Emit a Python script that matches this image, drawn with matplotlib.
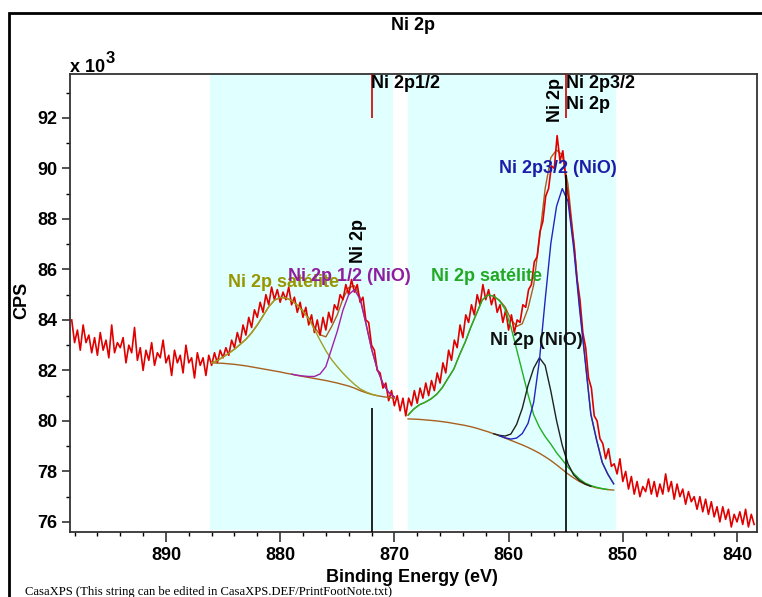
import numpy as np
import matplotlib
matplotlib.use("Agg")
import matplotlib.pyplot as plt
from matplotlib.patches import Rectangle
from matplotlib.ticker import MultipleLocator

plt.rcParams['font.family'] = ['Liberation Sans', 'DejaVu Sans']
plt.rcParams['font.weight'] = 'bold'

# ---- measured spectrum (CPS / 1000), 0.25 eV steps starting at 898.25 eV ----
be_start, be_step = 898.25, 0.25
cps_k = [
    84.0, 83.1, 83.6, 82.8, 83.8, 83.1, 83.4, 82.7,
    83.3, 82.6, 83.5, 82.8, 83.2, 82.5, 83.8, 82.7,
    83.1, 82.9, 83.3, 82.3, 83.0, 82.7, 83.7, 82.4,
    82.9, 82.0, 82.8, 82.4, 83.1, 82.2, 82.7, 82.5,
    83.2, 82.3, 82.6, 81.8, 82.8, 82.3, 82.6, 81.9,
    83.0, 82.3, 82.5, 81.7, 82.7, 82.2, 82.5, 81.8,
    82.6, 82.2, 82.7, 82.3, 82.8, 82.5, 82.9, 82.6,
    83.2, 82.9, 83.5, 83.1, 83.8, 83.4, 84.1, 83.7,
    84.4, 84.1, 84.7, 84.3, 85.0, 84.6, 85.3, 84.8,
    85.2, 84.7, 85.1, 84.8, 85.3, 84.6, 84.9, 84.3,
    84.7, 84.1, 84.5, 83.8, 84.2, 83.5, 84.0, 83.4,
    84.1, 83.6, 84.3, 83.9, 84.6, 84.4, 85.0, 84.8,
    85.4, 85.0, 85.6, 85.1, 85.4, 84.7, 84.9, 84.0,
    83.9, 83.0, 82.8, 82.0, 81.9, 81.3, 81.5, 80.8,
    81.2, 80.6, 81.0, 80.4, 80.9, 80.2, 80.9, 80.6,
    81.2, 80.7, 81.3, 80.9, 81.5, 81.0, 81.6, 81.2,
    81.9, 81.5, 82.3, 81.9, 82.8, 82.4, 83.2, 82.9,
    83.8, 83.3, 84.2, 83.9, 84.6, 84.2, 85.0, 84.6,
    85.4, 84.8, 85.2, 84.6, 85.0, 84.3, 84.6, 83.9,
    84.4, 83.6, 84.2, 83.5, 84.0, 83.9, 84.6, 84.5,
    85.2, 85.4, 86.3, 86.5, 87.5, 87.9, 88.9, 89.2,
    90.1, 90.0, 91.3, 90.3, 90.7, 89.6, 88.8, 87.8,
    86.9, 85.6, 84.8, 83.5, 82.9, 81.7, 81.3, 80.2,
    80.0, 79.3, 79.1, 78.5, 78.9, 78.2, 78.3, 77.9,
    78.5, 77.6, 78.0, 77.3, 77.8, 77.1, 77.6, 77.0,
    77.4, 77.2, 77.7, 77.1, 77.6, 77.0, 77.5, 77.1,
    77.9, 77.2, 77.6, 76.9, 77.5, 77.0, 77.3, 76.7,
    77.2, 76.8, 77.0, 76.5, 77.0, 76.4, 76.9, 76.3,
    76.8, 76.2, 76.6, 76.0, 76.6, 76.1, 76.5, 75.8,
    76.3, 76.0, 76.4, 75.9, 76.5, 75.8, 76.3, 75.9,
]

# ---- region 1 (Ni 2p1/2 + satellite), 886.0 -> 870.0 eV, 0.5 eV steps ----
r1_limits = (886.1, 870.1)
r1_first, r1_last = 886.0, 870.0
r1_bg = [82.30, 82.29, 82.28, 82.26, 82.24, 82.21, 82.18, 82.14, 82.10, 82.06,
         82.02, 81.98, 81.94, 81.89, 81.85, 81.80, 81.76, 81.72, 81.68, 81.64,
         81.60, 81.55, 81.50, 81.44, 81.38, 81.30, 81.20, 81.12, 81.05, 81.00,
         80.96, 80.93, 80.90]
r1_sat = [0.00, 0.10, 0.25, 0.42, 0.60, 0.82, 1.05, 1.35, 1.70, 2.10,
          2.50, 2.80, 2.95, 2.98, 2.92, 2.78, 2.58, 2.32, 1.95, 1.55,
          1.18, 0.88, 0.65, 0.45, 0.28, 0.15, 0.07, 0.03, 0.01, 0.00,
          0.00, 0.00, 0.00]
r1_p12 = [0.00, 0.00, 0.00, 0.00, 0.00, 0.00, 0.00, 0.00, 0.00, 0.00,
          0.00, 0.00, 0.00, 0.00, 0.00, 0.01, 0.02, 0.04, 0.08, 0.22,
          0.55, 1.30, 2.05, 2.95, 3.62, 3.90, 3.62, 2.75, 1.80, 1.05,
          0.52, 0.20, 0.05]

# ---- region 2 (Ni 2p3/2 + satellite), 868.8 -> 850.8 eV, 0.5 eV steps ----
r2_limits = (868.8, 850.6)
r2_first, r2_last = 868.8, 850.8
r2_bg = [80.08, 80.07, 80.06, 80.04, 80.02, 80.00, 79.97, 79.94, 79.90, 79.86,
         79.82, 79.77, 79.71, 79.64, 79.57, 79.49, 79.41, 79.32, 79.23, 79.14,
         79.05, 78.95, 78.84, 78.72, 78.58, 78.43, 78.26, 78.08, 77.90, 77.74,
         77.60, 77.49, 77.41, 77.35, 77.31, 77.28, 77.26]
r2_sat = [0.15, 0.40, 0.58, 0.70, 0.85, 1.05, 1.35, 1.75, 2.15, 2.75,
          3.30, 3.95, 4.55, 5.15, 5.42, 5.45, 5.35, 5.10, 4.50, 3.70,
          2.90, 2.10, 1.40, 1.03, 0.80, 0.65, 0.48, 0.38, 0.27, 0.18,
          0.10, 0.05, 0.03, 0.02, 0.01, 0.00, 0.00]
r2_nio = [0.00, 0.00, 0.00, 0.00, 0.00, 0.00, 0.00, 0.00, 0.00, 0.00,
          0.00, 0.00, 0.00, 0.00, 0.00, 0.00, 0.02, 0.08, 0.25, 0.72,
          1.45, 2.45, 3.25, 3.78, 3.62, 2.75, 1.75, 0.95, 0.40, 0.12,
          0.04, 0.01, 0.00, 0.00, 0.00, 0.00, 0.00]
r2_p32 = [0.00, 0.00, 0.00, 0.00, 0.00, 0.00, 0.00, 0.00, 0.00, 0.00,
          0.00, 0.00, 0.00, 0.00, 0.00, 0.00, 0.00, 0.01, 0.05, 0.18,
          0.45, 0.95, 1.90, 3.68, 6.20, 8.60, 10.24, 11.12, 10.80, 9.10,
          6.90, 4.91, 2.85, 1.90, 1.04, 0.60, 0.25]

# peak position markers (eV) and marker extents (kCPS)
marker_12, marker_32 = 872.0, 855.0
marker_12_low, marker_32_low = 80.5, 89.75
marker_top_from = 92.0

# colours
c_data = '#E00000'
c_bg = '#A8601E'
c_sat1 = '#A0A020'
c_p12 = '#A020A8'
c_sat2 = '#22B022'
c_nio = '#202020'
c_p32 = '#2424C0'
c_region = '#E0FFFF'

xlim = (898.4, 838.25)
ylim = (75.6, 93.74)
FS = 13

fig = plt.figure(figsize=(7.62, 5.97), dpi=100)
ax = fig.add_axes([70 / 762, 1 - 532 / 597, 687 / 762, 458 / 597])
ax.set_xlim(*xlim)
ax.set_ylim(*ylim)

# fitting regions
for lo, hi in (r1_limits, r2_limits):
    ax.axvspan(hi, lo, ymin=0.005, ymax=1.0, color=c_region, lw=0, zorder=0)

# data
be = be_start - be_step * np.arange(len(cps_k))
ax.plot(be, cps_k, color=c_data, lw=1.2, zorder=3)


def draw_component(x, bg, h, color):
    h = np.asarray(h)
    idx = np.nonzero(h > 0)[0]
    s = max(idx[0] - 1, 0)
    e = min(idx[-1] + 2, len(h))
    ax.plot(x[s:e], (bg + h)[s:e], color=color, lw=1.0, zorder=4)


x1 = np.linspace(r1_first, r1_last, len(r1_bg))
bg1 = np.asarray(r1_bg)
ax.plot(x1, bg1 + np.asarray(r1_sat) + np.asarray(r1_p12), color=c_bg, lw=1.0, zorder=2)
ax.plot(x1, bg1, color=c_bg, lw=1.0, zorder=4)
draw_component(x1, bg1, r1_sat, c_sat1)
draw_component(x1, bg1, r1_p12, c_p12)

x2 = np.linspace(r2_first, r2_last, len(r2_bg))
bg2 = np.asarray(r2_bg)
ax.plot(x2, bg2 + np.asarray(r2_sat) + np.asarray(r2_nio) + np.asarray(r2_p32),
        color=c_bg, lw=1.0, zorder=2)
ax.plot(x2, bg2, color=c_bg, lw=1.0, zorder=4)
draw_component(x2, bg2, r2_sat, c_sat2)
draw_component(x2, bg2, r2_nio, c_nio)
draw_component(x2, bg2, r2_p32, c_p32)

# peak markers
ax.vlines([marker_12, marker_32], marker_top_from, ylim[1], color='#CC0000', lw=1.2, zorder=5)
ax.vlines(marker_12, ylim[0], marker_12_low, color='black', lw=1.2, zorder=5)
ax.vlines(marker_32, ylim[0], marker_32_low, color='black', lw=1.2, zorder=5)

# annotations
ax.text(884.6, 85.5, 'Ni 2p satélite', color='#969600', fontsize=FS, ha='left', va='center', zorder=6)
ax.text(879.3, 85.7, 'Ni 2p 1/2 (NiO)', color='#8E1E9E', fontsize=FS, ha='left', va='center', zorder=6)
ax.text(866.8, 85.7, 'Ni 2p satélite', color='#22A822', fontsize=FS, ha='left', va='center', zorder=6)
ax.text(861.6, 83.2, 'Ni 2p (NiO)', color='#101010', fontsize=FS, ha='left', va='center', zorder=6)
ax.text(860.8, 90.0, 'Ni 2p3/2 (NiO)', color='#1C1CA8', fontsize=FS, ha='left', va='center', zorder=6)
ax.text(872.05, 93.35, 'Ni 2p1/2', color='black', fontsize=FS, ha='left', va='center', zorder=6)
ax.text(854.95, 93.35, 'Ni 2p3/2', color='black', fontsize=FS, ha='left', va='center', zorder=6)
ax.text(854.95, 92.55, 'Ni 2p', color='black', fontsize=FS, ha='left', va='center', zorder=6)
ax.text(855.9, 92.71, 'Ni 2p', color='black', fontsize=FS, rotation=90, ha='center', va='center', zorder=6)
ax.text(873.1, 87.13, 'Ni 2p', color='black', fontsize=FS, rotation=90, ha='center', va='center', zorder=6)

# axes styling
for sp in ax.spines.values():
    sp.set_color('#333333')
    sp.set_linewidth(1.3)
ax.xaxis.set_major_locator(MultipleLocator(10))
ax.xaxis.set_minor_locator(MultipleLocator(2))
ax.yaxis.set_major_locator(MultipleLocator(2))
ax.yaxis.set_minor_locator(MultipleLocator(1))
ax.tick_params(axis='x', which='major', direction='out', length=7, width=1.2, pad=4, labelsize=FS)
ax.tick_params(axis='x', which='minor', direction='out', length=3, width=1.0)
ax.tick_params(axis='y', which='major', direction='out', length=6, width=1.2, pad=3, labelsize=FS)
ax.tick_params(axis='y', which='minor', direction='out', length=3, width=1.0)
ax.tick_params(colors='#333333', labelcolor='black')

# figure texts
fig.text(413 / 762, 1 - 25 / 597, 'Ni 2p', ha='center', va='center', fontsize=FS)
fig.text(412 / 762, 1 - 577 / 597, 'Binding Energy (eV)', ha='center', va='center', fontsize=FS)
fig.text(22 / 762, 1 - 300 / 597, 'CPS', ha='center', va='center', rotation=90, fontsize=FS)
fig.text(70 / 762, 1 - 72 / 597, 'x 10', ha='left', va='baseline', fontsize=FS)
fig.text(106 / 762, 1 - 63 / 597, '3', ha='left', va='baseline', fontsize=FS - 1)
fig.text(25 / 762, 1 - 586 / 597,
         'CasaXPS (This string can be edited in CasaXPS.DEF/PrintFootNote.txt)',
         ha='left', va='top', fontsize=9.1, fontweight='normal', family='Liberation Serif')

# outer frame
fig.add_artist(Rectangle((9 / 762, -0.1), 1.2, (1 - 13 / 597) + 0.1, transform=fig.transFigure,
                         fill=False, ec='black', lw=2.0))

fig.savefig('out.png', dpi=100)
